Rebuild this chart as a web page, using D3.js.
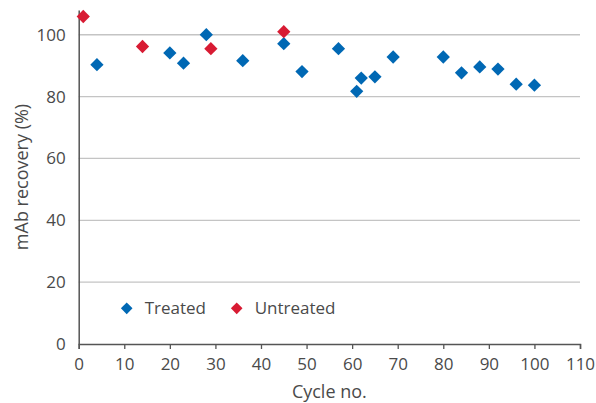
<!DOCTYPE html>
<html><head><meta charset="utf-8">
<script src="https://cdn.jsdelivr.net/npm/d3@7"></script>
<style>body{margin:0;background:#fff}svg{display:block}text{font-family:"Open Sans",sans-serif;fill:#4a4a4a}</style>
</head><body>
<script>
const treatedCycles = [4, 20, 23, 28, 36, 45, 49, 57, 61, 62, 65, 69, 80, 84, 88, 92, 96, 100];
const treatedValues = [90.3, 94.1, 90.8, 100, 91.6, 97.1, 88.1, 95.5, 81.7, 86, 86.4, 92.8, 92.8, 87.7, 89.6, 88.9, 84, 83.7];
const untreatedCycles = [1, 14, 29, 45];
const untreatedValues = [105.9, 96.2, 95.5, 101];
const xTicks = [0, 10, 20, 30, 40, 50, 60, 70, 80, 90, 100, 110];
const yTicks = [0, 20, 40, 60, 80, 100];
const seriesNames = ["Treated", "Untreated"];
const colors = ["#0068b4", "#d81b33"];

const W = 596, H = 403;
const svg = d3.select("body").append("svg").attr("width", W).attr("height", H);
const x = d3.scaleLinear().domain([0, 110]).range([78.7, 580]);
const y = d3.scaleLinear().domain([0, 108]).range([344, 10]);

// grid
svg.append("g").selectAll("line").data(yTicks.filter(d => d > 0)).join("line")
  .attr("x1", x(0)).attr("x2", x(110)).attr("y1", d => y(d)).attr("y2", d => y(d))
  .attr("stroke", "#c4c4c4").attr("stroke-width", 1.3);

// x axis
const xa = svg.append("g").attr("transform", `translate(0,${y(0)})`)
  .call(d3.axisBottom(x).tickValues(xTicks).tickSize(5).tickPadding(9).tickFormat(d3.format("d")));
xa.select(".domain").attr("stroke", "#555").attr("stroke-width", 1.5);
xa.selectAll(".tick line").attr("stroke", "#555").attr("stroke-width", 1.3);
xa.selectAll("text").attr("font-size", 17).attr("fill", "#4a4a4a").attr("font-family", "Open Sans");

// y axis
const ya = svg.append("g").attr("transform", `translate(${x(0)},0)`)
  .call(d3.axisLeft(y).tickValues(yTicks).tickSize(0).tickPadding(13).tickFormat(d3.format("d")));
ya.select(".domain").attr("stroke", "#555").attr("stroke-width", 1.5);
ya.selectAll("text").attr("font-size", 17).attr("fill", "#4a4a4a").attr("font-family", "Open Sans");

const diamond = d3.symbol().type(d3.symbolSquare).size(88);
const series = [
  {name: seriesNames[0], color: colors[0], xs: treatedCycles, ys: treatedValues},
  {name: seriesNames[1], color: colors[1], xs: untreatedCycles, ys: untreatedValues}
];
series.forEach(s => {
  svg.append("g").selectAll("path").data(s.xs.map((c, i) => [c, s.ys[i]])).join("path")
    .attr("d", diamond)
    .attr("transform", d => `translate(${x(d[0])},${y(d[1])}) rotate(45)`)
    .attr("fill", s.color);
});

// legend
const leg = svg.append("g");
const legX = [126.7, 236.7];
series.forEach((s, i) => {
  leg.append("path").attr("d", d3.symbol().type(d3.symbolSquare).size(68))
    .attr("transform", `translate(${legX[i]},308.3) rotate(45)`).attr("fill", s.color);
  leg.append("text").attr("x", legX[i] + 18).attr("y", 308.3).attr("dy", "0.35em")
    .attr("font-size", 17).text(s.name);
});

// titles
svg.append("text").attr("x", (x(0) + x(110)) / 2).attr("y", 398).attr("text-anchor", "middle")
  .attr("font-size", 18).text("Cycle no.");
svg.append("text").attr("transform", `translate(28,${y(54)}) rotate(-90)`).attr("text-anchor", "middle")
  .attr("font-size", 18).text("mAb recovery (%)");
</script>
</body></html>
